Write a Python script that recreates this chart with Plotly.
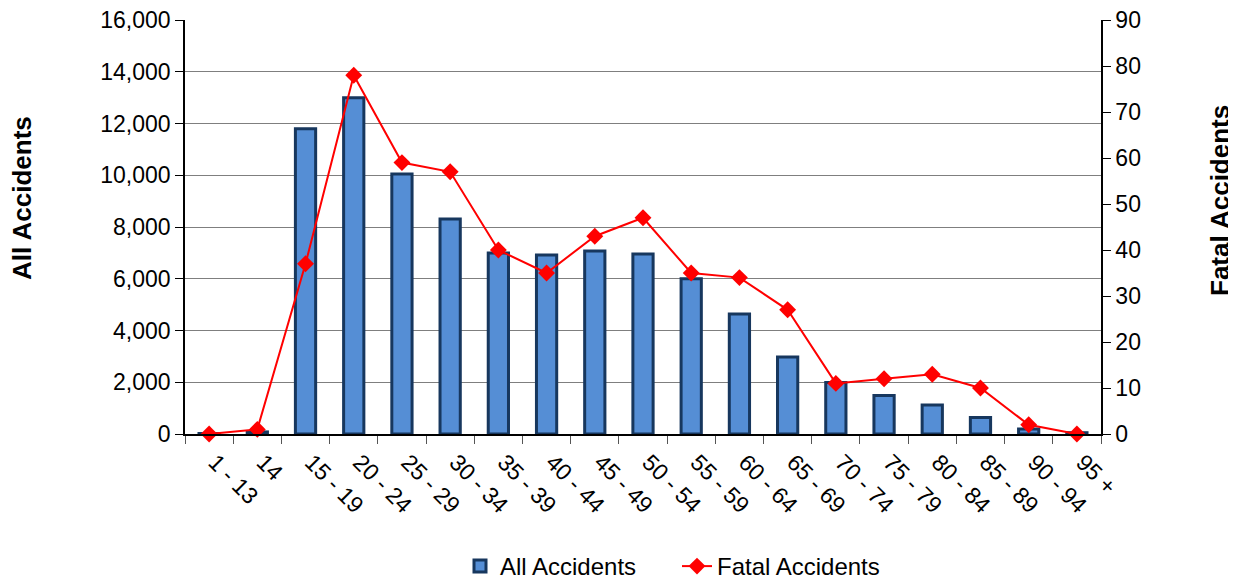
import plotly.graph_objects as go

categories = ["1 - 13", "14", "15 - 19", "20 - 24", "25 - 29", "30 - 34", "35 - 39",
              "40 - 44", "45 - 49", "50 - 54", "55 - 59", "60 - 64", "65 - 69",
              "70 - 74", "75 - 79", "80 - 84", "85 - 89", "90 - 94", "95 +"]
all_accidents = [20, 80, 11800, 13000, 10050, 8310, 7000, 6920, 7070, 6960,
                 6000, 4640, 2980, 1990, 1490, 1120, 640, 190, 50]
fatal_accidents = [0, 1, 37, 78, 59, 57, 40, 35, 43, 47, 35, 34, 27, 11, 12, 13, 10, 2, 0]

FONT = "Liberation Sans, Arial, sans-serif"
# page body has an 8px margin; figure sized to fill the rest of the window
OFF = 8
W, H = 1236 - OFF, 581 - OFF
L, T = 185 - OFF, 20 - OFF
PW, PH = 1101 - 185, 434 - 20
R, B = W - L - PW, H - T - PH

def py(win_y):
    return (T + PH - (win_y - OFF)) / PH

def px(win_x):
    return ((win_x - OFF) - L) / PW

fig = go.Figure()
fig.add_trace(go.Bar(
    x=categories, y=all_accidents, name="All Accidents",
    marker=dict(color="#558ED5", line=dict(color="#17375E", width=3)),
    width=0.42, yaxis="y",
))
fig.add_trace(go.Scatter(
    x=categories, y=fatal_accidents, name="Fatal Accidents",
    mode="lines+markers",
    line=dict(color="#FF0000", width=2),
    marker=dict(symbol="diamond", size=13, color="#FF0000"),
    yaxis="y2", cliponaxis=False,
))

fig.update_layout(
    width=W, height=H,
    margin=dict(l=L, r=R, t=T, b=B, autoexpand=False),
    paper_bgcolor="white", plot_bgcolor="white",
    font=dict(family=FONT, size=23, color="black"),
    showlegend=True,
    legend=dict(orientation="h", x=px(460), xanchor="left",
                y=py(544), yanchor="top", entrywidth=172,
                font=dict(size=24), traceorder="normal"),
    xaxis=dict(
        type="category", range=[-0.5, len(categories) - 0.5],
        tickangle=45, showline=True, linecolor="black", linewidth=1.5,
        ticks="outside", ticklen=8, tickcolor="#555", tickson="boundaries",
        tickfont=dict(size=23), showgrid=False, automargin=False,
        ticklabelshift=6, ticklabelstandoff=4,
    ),
    yaxis=dict(
        range=[0, 16000], dtick=2000, tickformat=",d",
        showline=True, linecolor="black", linewidth=1.5,
        ticks="outside", ticklen=8, tickcolor="black",
        showgrid=True, gridcolor="#7f7f7f", gridwidth=1,
        tickfont=dict(size=23), automargin=False, zeroline=False,
        ticklabeloverflow="allow",
    ),
    yaxis2=dict(
        range=[0, 90], dtick=10, overlaying="y", side="right",
        showline=True, linecolor="black", linewidth=1.5,
        ticks="outside", ticklen=8, tickcolor="black",
        showgrid=False, tickfont=dict(size=23), automargin=False, zeroline=False,
        ticklabeloverflow="allow",
    ),
    annotations=[
        dict(text="<b>All Accidents</b>", xref="paper", yref="paper",
             x=px(22), y=py(198), textangle=-90,
             showarrow=False, font=dict(size=26), xanchor="center", yanchor="middle"),
        dict(text="<b>Fatal Accidents</b>", xref="paper", yref="paper",
             x=px(1220), y=py(201), textangle=-90,
             showarrow=False, font=dict(size=26), xanchor="center", yanchor="middle"),
    ],
)

fig.write_html("out.html")
